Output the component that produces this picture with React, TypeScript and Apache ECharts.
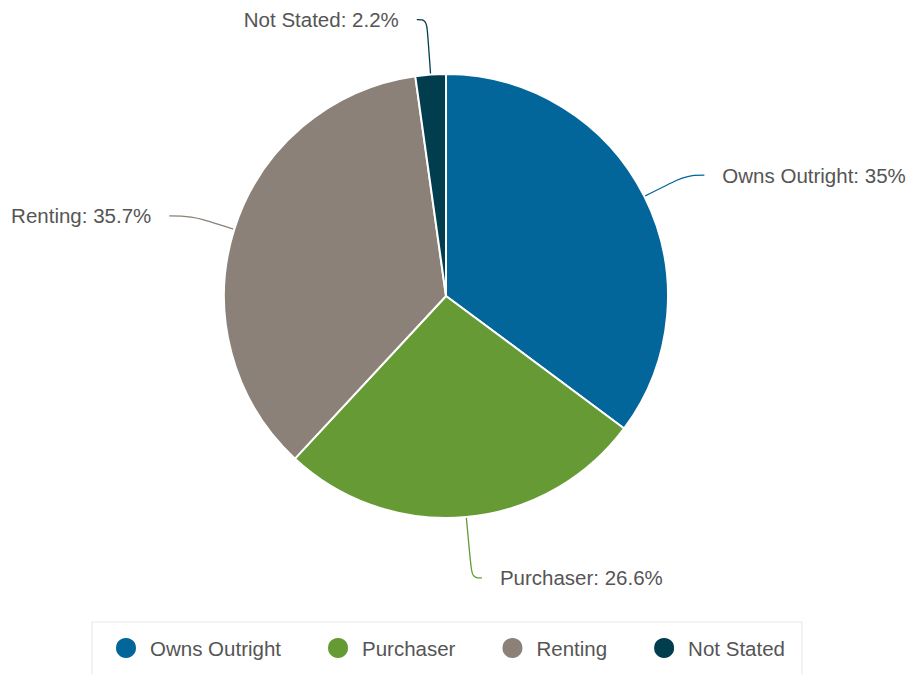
import React, { useEffect, useRef } from "react";
import * as echarts from "echarts";

const categories = ["Owns Outright", "Purchaser", "Renting", "Not Stated"];
const values = [35, 26.6, 35.7, 2.2];
const colors = ["#03669a", "#669a34", "#8b8178", "#023d4e"];
// label line lengths per slice [length, length2]
const lineLengths = [
  [47, 18],
  [61, 10],
  [45, 22],
  [55, 10],
];

const FONT = "'Liberation Sans', Arial, Helvetica, sans-serif";

export default function App() {
  const ref = useRef<HTMLDivElement>(null);
  useEffect(() => {
    if (!ref.current) return;
    const chart = echarts.init(ref.current, undefined, { renderer: "svg" });
    chart.setOption({
      animation: false,
      color: colors,
      textStyle: { fontFamily: FONT },
      legend: {
        data: categories,
        left: 92,
        top: 622,
        orient: "horizontal",
        icon: "circle",
        itemWidth: 22,
        itemHeight: 22,
        itemGap: 45,
        padding: [14, 17, 22, 22],
        borderColor: "#e6e6e6",
        borderWidth: 1,
        textStyle: {
          fontSize: 20.5,
          color: "#555",
          fontFamily: FONT,
          padding: [0, 0, 0, 8],
        },
      },
      series: [
        {
          type: "pie",
          center: [446, 296],
          radius: 222,
          startAngle: 90,
          clockwise: true,
          avoidLabelOverlap: false,
          itemStyle: { borderColor: "#fff", borderWidth: 2 },
          label: {
            show: true,
            position: "outside",
            formatter: (p: any) => `${p.name}: ${p.value}%`,
            fontSize: 20.5,
            color: "#555",
            fontFamily: FONT,
            distanceToLabelLine: 18,
          },
          labelLine: {
            show: true,
            smooth: 0.4,
            lineStyle: { width: 1.3 },
          },
          emphasis: { disabled: true },
          data: categories.map((name, i) => ({
            name,
            value: values[i],
            labelLine: { length: lineLengths[i][0], length2: lineLengths[i][1] },
          })),
        },
      ],
    });
    return () => chart.dispose();
  }, []);
  return (
    <div
      ref={ref}
      style={{ position: "absolute", left: 0, top: 0, width: 917, height: 674, background: "#fff" }}
    />
  );
}
